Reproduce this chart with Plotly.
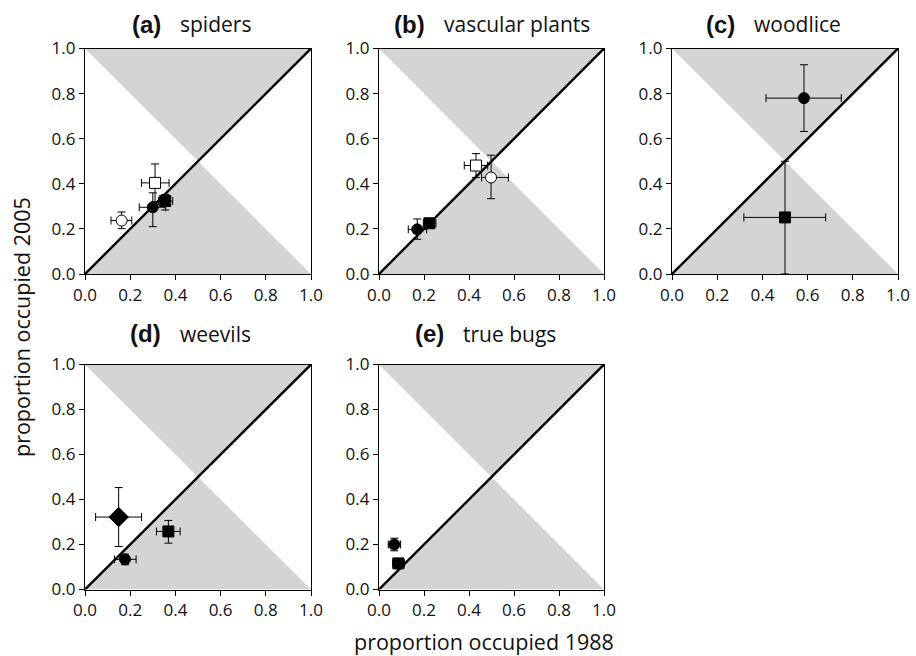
import plotly.graph_objects as go

W, H = 916, 656

panel_labels = ["(a)", "(b)", "(c)", "(d)", "(e)"]
panel_names = ["spiders", "vascular plants", "woodlice", "weevils", "true bugs"]
tick_vals = [0.0, 0.2, 0.4, 0.6, 0.8, 1.0]
tick_text = ["0.0", "0.2", "0.4", "0.6", "0.8", "1.0"]
x_title = "proportion occupied 1988"
y_title = "proportion occupied 2005"

# (a) spiders: open circle, open square, filled circle, filled square
spiders_x = [0.162, 0.310, 0.300, 0.355]
spiders_x_lo = [0.115, 0.250, 0.240, 0.325]
spiders_x_hi = [0.207, 0.372, 0.357, 0.388]
spiders_y = [0.237, 0.404, 0.296, 0.324]
spiders_y_lo = [0.201, 0.320, 0.210, 0.284]
spiders_y_hi = [0.275, 0.488, 0.360, 0.353]

# (b) vascular plants: filled circle, filled square, open square, open circle
plants_x = [0.170, 0.224, 0.431, 0.498]
plants_x_lo = [0.130, 0.197, 0.379, 0.456]
plants_x_hi = [0.212, 0.253, 0.483, 0.575]
plants_y = [0.198, 0.225, 0.481, 0.428]
plants_y_lo = [0.154, 0.203, 0.428, 0.334]
plants_y_hi = [0.244, 0.245, 0.534, 0.527]

# (c) woodlice: filled circle, filled square
woodlice_x = [0.584, 0.500]
woodlice_x_lo = [0.416, 0.318]
woodlice_x_hi = [0.749, 0.680]
woodlice_y = [0.780, 0.251]
woodlice_y_lo = [0.632, 0.000]
woodlice_y_hi = [0.928, 0.500]

# (d) weevils: filled diamond, filled circle, filled square
weevils_x = [0.149, 0.177, 0.369]
weevils_x_lo = [0.047, 0.130, 0.316]
weevils_x_hi = [0.250, 0.226, 0.421]
weevils_y = [0.322, 0.134, 0.258]
weevils_y_lo = [0.191, 0.110, 0.206]
weevils_y_hi = [0.453, 0.157, 0.307]

# (e) true bugs: filled circle, filled square
bugs_x = [0.068, 0.086]
bugs_x_lo = [0.041, 0.061]
bugs_x_hi = [0.096, 0.113]
bugs_y = [0.200, 0.116]
bugs_y_lo = [0.172, 0.093]
bugs_y_hi = [0.228, 0.138]

# styles (not data)
INK = "#000000"
spiders_sym = ["circle", "square", "circle", "square"]
spiders_fill = ["white", "white", INK, INK]
plants_sym = ["circle", "square", "square", "circle"]
plants_fill = [INK, INK, "white", "white"]
woodlice_sym = ["circle", "square"]
woodlice_fill = [INK, INK]
weevils_sym = ["diamond", "circle", "square"]
weevils_fill = [INK, INK, INK]
bugs_sym = ["circle", "square"]
bugs_fill = [INK, INK]

panels = [
    (spiders_x, spiders_x_lo, spiders_x_hi, spiders_y, spiders_y_lo, spiders_y_hi, spiders_sym, spiders_fill),
    (plants_x, plants_x_lo, plants_x_hi, plants_y, plants_y_lo, plants_y_hi, plants_sym, plants_fill),
    (woodlice_x, woodlice_x_lo, woodlice_x_hi, woodlice_y, woodlice_y_lo, woodlice_y_hi, woodlice_sym, woodlice_fill),
    (weevils_x, weevils_x_lo, weevils_x_hi, weevils_y, weevils_y_lo, weevils_y_hi, weevils_sym, weevils_fill),
    (bugs_x, bugs_x_lo, bugs_x_hi, bugs_y, bugs_y_lo, bugs_y_hi, bugs_sym, bugs_fill),
]

# pixel layout of each panel's plotting box: (left, right, top, bottom)
boxes = [
    (85, 311, 48.5, 274),
    (379, 604, 48.5, 274),
    (672, 898, 48.5, 274),
    (85, 311, 364.5, 589.5),
    (379, 604, 364.5, 589.5),
]
title_y_px = [24, 24, 24, 333.5, 333.5]
label_right_px = [163, 427, 737, 163, 446]


def px_x(sx):
    return sx / W


def px_y(sy):
    return 1 - sy / H


FONT = "Open Sans"
fig = go.Figure()
shapes = []
annotations = []

for i, (px, pxlo, pxhi, py, pylo, pyhi, sym, fill) in enumerate(panels):
    n = i + 1
    xa = "x" if n == 1 else f"x{n}"
    ya = "y" if n == 1 else f"y{n}"
    l, r, t, b = boxes[i]

    # shaded triangles and 1:1 line
    for path in ["M 0,1 L 1,1 L 0.5,0.5 Z", "M 0,0 L 1,0 L 0.5,0.5 Z"]:
        shapes.append(dict(type="path", path=path, xref=xa, yref=ya,
                           fillcolor="#d3d5d5", line=dict(width=0), layer="below"))
    shapes.append(dict(type="line", x0=0, y0=0, x1=1, y1=1, xref=xa, yref=ya,
                       line=dict(color=INK, width=2.4), layer="below"))

    sizes = [15 if s == "diamond" else 11 for s in sym]
    fig.add_trace(go.Scatter(
        x=px, y=py, mode="markers", xaxis=xa, yaxis=ya, showlegend=False,
        marker=dict(symbol=sym, color=fill, size=sizes, opacity=1,
                    line=dict(color=INK, width=1)),
        error_x=dict(type="data", symmetric=False,
                     array=[h - v for h, v in zip(pxhi, px)],
                     arrayminus=[v - lo for v, lo in zip(px, pxlo)],
                     color=INK, thickness=1, width=4),
        error_y=dict(type="data", symmetric=False,
                     array=[h - v for h, v in zip(pyhi, py)],
                     arrayminus=[v - lo for v, lo in zip(py, pylo)],
                     color=INK, thickness=1, width=4),
    ))

    axis_common = dict(range=[0, 1], tickvals=tick_vals, ticktext=tick_text,
                       showgrid=False, zeroline=False, showline=True, mirror=True,
                       linecolor=INK, linewidth=1.2, ticks="outside", ticklen=5,
                       tickcolor=INK, tickwidth=1, automargin=False,
                       tickfont=dict(family=FONT, size=17, color="#111111"))
    fig.layout[f"xaxis{'' if n == 1 else n}"] = dict(
        axis_common, domain=[px_x(l), px_x(r)], anchor=ya)
    fig.layout[f"yaxis{'' if n == 1 else n}"] = dict(
        axis_common, domain=[px_y(b), px_y(t)], anchor=xa)

    ty = px_y(title_y_px[i])
    annotations.append(dict(
        text=f"<b>{panel_labels[i]}</b>", x=px_x(label_right_px[i]), y=ty,
        xref="paper", yref="paper", xanchor="right", yanchor="middle", showarrow=False,
        font=dict(family="Liberation Sans", size=24, color="#111111")))
    annotations.append(dict(
        text=panel_names[i], x=px_x(label_right_px[i] + 15), y=ty,
        xref="paper", yref="paper", xanchor="left", yanchor="middle", showarrow=False,
        font=dict(family=FONT, size=21, color="#111111")))

annotations.append(dict(text=x_title, x=px_x(484), y=px_y(641), xref="paper", yref="paper",
                        xanchor="center", yanchor="middle", showarrow=False,
                        font=dict(family=FONT, size=21.5, color="#111111")))
annotations.append(dict(text=y_title, x=px_x(21), y=px_y(327), xref="paper", yref="paper",
                        xanchor="center", yanchor="middle", showarrow=False, textangle=-90,
                        font=dict(family=FONT, size=21.5, color="#111111")))

fig.update_layout(width=W, height=H, margin=dict(l=0, r=0, t=0, b=0),
                  paper_bgcolor="white", plot_bgcolor="white",
                  shapes=shapes, annotations=annotations,
                  font=dict(family=FONT, color="#111111"))

# remove the browser's default 8px body margin so the figure fills the window exactly
fig.write_html("out.html", config={"displayModeBar": False},
               post_script="document.body.style.margin='0px';document.body.style.overflow='hidden';")
